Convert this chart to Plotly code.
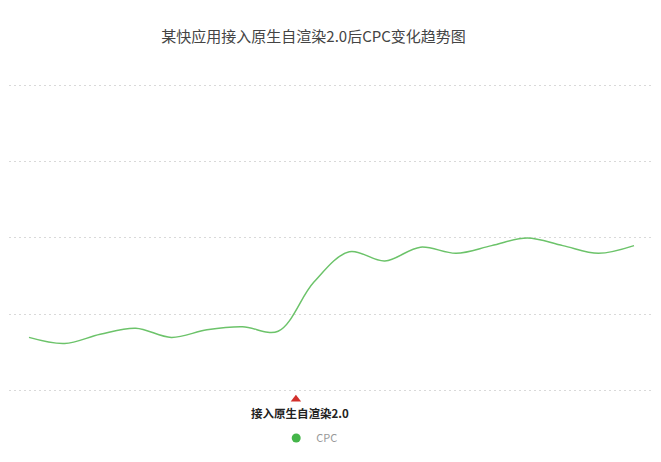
import plotly.graph_objects as go

# CPC readings (one per period, left to right); no axis labels shown in the source
periods = list(range(18))
cpc = [0.35, 0.31, 0.37, 0.41, 0.35, 0.40, 0.42, 0.39, 0.71, 0.91,
       0.85, 0.94, 0.90, 0.95, 1.00, 0.95, 0.90, 0.95]

event_x = 7.5
event_label = "接入原生自渲染2.0"
title = "某快应用接入原生自渲染2.0后CPC变化趋势图"

font = "Noto Sans CJK SC, Noto Sans, sans-serif"

fig = go.Figure()

fig.add_trace(go.Scatter(x=periods, y=cpc, mode="lines", name="CPC",
                         line=dict(color="#6cc36a", width=1.5, shape="spline", smoothing=1),
                         showlegend=False, hoverinfo="skip"))

# legend entry drawn as a dot
fig.add_trace(go.Scatter(x=[None], y=[None], mode="markers", name="CPC",
                         marker=dict(color="#44b549", size=9)))

# event marker
fig.add_trace(go.Scatter(x=[event_x], y=[-0.055], mode="markers", showlegend=False,
                         marker=dict(symbol="triangle-up", color="#d2302c", size=9),
                         hoverinfo="skip"))

fig.add_annotation(x=event_x, y=-0.144, yanchor="middle", xshift=4,
                   text="<b>" + event_label + "</b>", showarrow=False,
                   font=dict(family=font, size=11.5, color="#222222"))

fig.update_layout(
    width=653, height=454,
    margin=dict(l=1, r=5, t=72, b=42),
    paper_bgcolor="white", plot_bgcolor="white",
    font=dict(family=font),
    title=dict(text=title, x=0.468, xanchor="center", y=0.937, yanchor="middle",
               font=dict(family=font, size=15, color="#444444")),
    xaxis=dict(range=[-0.562, 17.618], showgrid=False, zeroline=False,
               showticklabels=False, showline=False, ticks=""),
    yaxis=dict(range=[-0.19, 2.0327], tickvals=[0, 0.5, 1, 1.5, 2],
               showgrid=True, gridcolor="#d9d9d9", griddash="2px,3px", gridwidth=1,
               zeroline=False, showticklabels=False, showline=False, ticks=""),
    legend=dict(orientation="h", x=0.413, xanchor="left", y=-0.053, yanchor="middle",
                font=dict(family=font, size=11, color="#999999"),
                bgcolor="rgba(0,0,0,0)"),
)

fig.write_html("out.html")
